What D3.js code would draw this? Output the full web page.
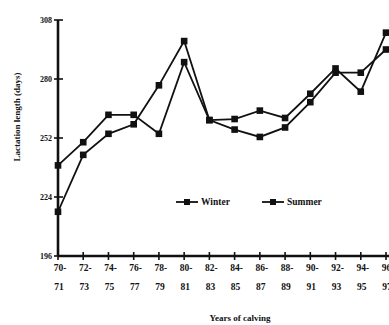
<!DOCTYPE html>
<html><head><meta charset="utf-8">
<script src="https://cdn.jsdelivr.net/npm/d3@7"></script>
<style>body{margin:0;background:#fff}svg{display:block}text{font-family:"Liberation Serif","DejaVu Serif",serif;font-weight:bold;fill:#111}</style>
</head><body><svg id="c" width="389" height="325"></svg>
<script>
const categoriesTop = ["70-","72-","74-","76-","78-","80-","82-","84-","86-","88-","90-","92-","94-","96-"];
const categoriesBottom = ["71","73","75","77","79","81","83","85","87","89","91","93","95","97"];
const categories = categoriesTop.map((d,i)=>d+categoriesBottom[i]);
const winter = [239, 250, 263, 263, 254, 288, 260.5, 256, 252.5, 257, 269, 283, 283, 294];
const summer = [217, 244, 254, 258.5, 277, 298, 260.5, 261, 265, 261.5, 273, 285, 274, 302];
const yTicks = [196, 224, 252, 280, 308];

const svg = d3.select("#c");
const x = d3.scalePoint().domain(categories).range([58, 386]);
const y = d3.scaleLinear().domain([196, 308]).range([256, 20]);
const ink = "#111";

svg.append("line").attr("x1",58).attr("x2",58).attr("y1",y(308)).attr("y2",y(196)).attr("stroke",ink).attr("stroke-width",2.6);
svg.append("line").attr("x1",58).attr("x2",389).attr("y1",y(196)).attr("y2",y(196)).attr("stroke",ink).attr("stroke-width",2.6);

const yt = svg.append("g");
yt.selectAll("line").data(yTicks).join("line")
  .attr("x1",54).attr("x2",63).attr("y1",d=>y(d)).attr("y2",d=>y(d)).attr("stroke",ink).attr("stroke-width",1.6);
yt.selectAll("text").data(yTicks).join("text")
  .attr("x",52).attr("y",d=>y(d)+3).attr("text-anchor","end").attr("font-size",8).text(d=>d);

const xt = svg.append("g");
xt.selectAll("line").data(categories).join("line")
  .attr("x1",d=>x(d)).attr("x2",d=>x(d)).attr("y1",y(196)-4).attr("y2",y(196)+4).attr("stroke",ink).attr("stroke-width",1.6);
xt.selectAll("text.t").data(categories).join("text").attr("class","t")
  .attr("x",d=>x(d)+2).attr("y",271).attr("text-anchor","middle").attr("font-size",9.5).text((d,i)=>categoriesTop[i]);
xt.selectAll("text.b").data(categories).join("text").attr("class","b")
  .attr("x",d=>x(d)+1).attr("y",290).attr("text-anchor","middle").attr("font-size",9.5).text((d,i)=>categoriesBottom[i]);

svg.append("text").attr("transform","translate(20,117) rotate(-90)").attr("text-anchor","middle").attr("font-size",9).text("Lactation length (days)");
svg.append("text").attr("x",240).attr("y",321).attr("text-anchor","middle").attr("font-size",9).text("Years of calving");

const line = d3.line().x((d,i)=>x(categories[i])).y(d=>y(d));
[winter, summer].forEach(s=>{
  svg.append("path").attr("d",line(s)).attr("fill","none").attr("stroke",ink).attr("stroke-width",1.8);
  svg.append("g").selectAll("rect").data(s).join("rect")
    .attr("x",(d,i)=>x(categories[i])-3.3).attr("y",d=>y(d)-3.3).attr("width",6.6).attr("height",6.6).attr("fill",ink);
});

const leg = [{name:"Winter",x:176},{name:"Summer",x:262}];
leg.forEach(l=>{
  svg.append("line").attr("x1",l.x).attr("x2",l.x+22).attr("y1",202).attr("y2",202).attr("stroke",ink).attr("stroke-width",1.8);
  svg.append("rect").attr("x",l.x+8).attr("y",199).attr("width",6).attr("height",6).attr("fill",ink);
  svg.append("text").attr("x",l.x+25).attr("y",205).attr("font-size",9.5).text(l.name);
});
</script></body></html>
